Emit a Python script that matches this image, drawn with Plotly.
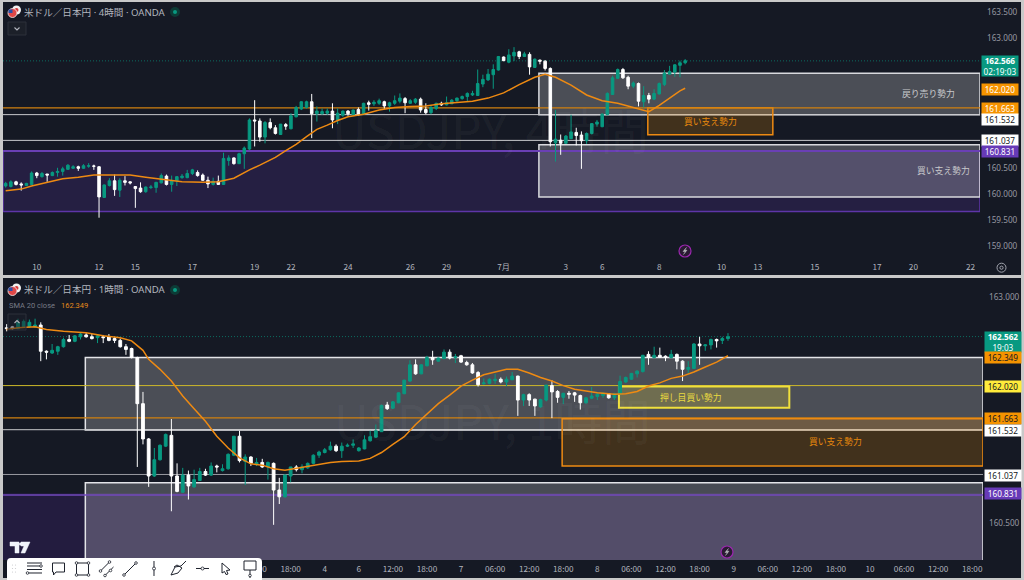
import plotly.graph_objects as go

FONT = "Noto Sans, Noto Sans CJK JP"
JP_FONT = "Noto Sans CJK JP"
GREEN = "#089981"
ORANGE = "#f59300"
PURPLE = "#673ab7"
YELLOW = "#ffeb3b"
PANEL = "#151924"

# 4 hour chart
top_open = [
    160.16, 160.15, 160.24, 160.20, 160.17, 160.19, 160.41, 160.34, 160.39, 160.36,
    160.42, 160.44, 160.48, 160.50, 160.53, 160.50, 160.54, 160.545, 160.53, 159.94,
    160.17, 160.26, 160.08, 160.26, 160.24, 160.15, 160.12, 160.05, 160.13, 160.13,
    160.22, 160.35, 160.19, 160.26, 160.32, 160.32, 160.40, 160.42, 160.37, 160.27,
    160.19, 160.25, 160.19, 160.65, 160.70, 160.59, 160.78, 160.87, 161.43, 161.41,
    161.10, 161.38, 161.28, 161.15, 161.34, 161.26, 161.49, 161.64, 161.67, 161.78,
    161.55, 161.55, 161.56, 161.60, 161.43, 161.52, 161.60, 161.53, 161.63, 161.54,
    161.76, 161.74, 161.75, 161.78, 161.70, 161.75, 161.79, 161.84, 161.75, 161.77,
    161.83, 161.63, 161.57, 161.65, 161.75, 161.72, 161.74, 161.80, 161.84, 161.88,
    161.91, 161.90, 162.12, 162.20, 162.30, 162.39, 162.64, 162.54, 162.66, 162.74,
    162.65, 162.69, 162.44, 162.58, 162.56, 162.42, 160.99, 161.04, 160.98, 161.07,
    161.19, 161.14, 161.03, 161.17, 161.35, 161.30, 161.53, 161.92, 162.23, 162.40,
    162.25, 162.08, 162.13, 161.78, 161.90, 161.83, 161.93, 162.11, 162.31, 162.35,
    162.48, 162.53,
]
top_high = [
    160.24, 160.27, 160.26, 160.23, 160.22, 160.44, 160.43, 160.43, 160.39, 160.44,
    160.51, 160.53, 160.58, 160.56, 160.55, 160.58, 160.60, 160.57, 160.54, 160.19,
    160.31, 160.38, 160.31, 160.35, 160.25, 160.16, 160.23, 160.15, 160.18, 160.24,
    160.40, 160.38, 160.36, 160.35, 160.39, 160.47, 160.49, 160.46, 160.40, 160.34,
    160.32, 160.36, 160.80, 160.75, 160.71, 160.80, 160.92, 161.46, 161.81, 161.46,
    161.41, 161.46, 161.33, 161.35, 161.37, 161.56, 161.70, 161.79, 161.80, 161.93,
    161.69, 161.65, 161.65, 161.75, 161.65, 161.61, 161.62, 161.63, 161.67, 161.76,
    161.80, 161.81, 161.84, 161.80, 161.78, 161.90, 161.94, 161.87, 161.83, 161.85,
    161.86, 161.75, 161.70, 161.76, 161.78, 161.88, 161.83, 161.86, 161.90, 161.96,
    161.99, 162.40, 162.30, 162.41, 162.50, 162.66, 162.65, 162.79, 162.83, 162.76,
    162.74, 162.73, 162.61, 162.59, 162.58, 162.44, 161.62, 161.15, 161.14, 161.53,
    161.28, 161.21, 161.19, 161.37, 161.43, 161.56, 161.96, 162.28, 162.42, 162.43,
    162.28, 162.17, 162.15, 162.08, 161.95, 162.02, 162.15, 162.39, 162.47, 162.50,
    162.57, 162.60,
]
top_low = [
    160.13, 160.13, 160.17, 160.07, 160.16, 160.18, 160.31, 160.32, 160.24, 160.35,
    160.34, 160.36, 160.47, 160.49, 160.45, 160.49, 160.51, 160.47, 159.55, 159.93,
    160.15, 159.97, 159.95, 160.17, 160.19, 159.74, 160.03, 160.03, 160.10, 160.03,
    160.21, 160.17, 160.05, 160.16, 160.30, 160.31, 160.37, 160.34, 160.26, 160.12,
    160.17, 160.18, 160.18, 160.55, 160.57, 160.58, 160.49, 160.85, 160.92, 161.01,
    160.98, 161.25, 161.15, 161.14, 161.24, 161.25, 161.48, 161.62, 161.65, 161.08,
    161.40, 161.53, 161.53, 161.27, 161.35, 161.49, 161.51, 161.51, 161.51, 161.53,
    161.61, 161.70, 161.72, 161.64, 161.59, 161.72, 161.75, 161.56, 161.74, 161.74,
    161.57, 161.54, 161.54, 161.62, 161.70, 161.71, 161.74, 161.78, 161.82, 161.79,
    161.89, 161.89, 162.06, 162.18, 162.03, 162.38, 162.56, 162.52, 162.56, 162.60,
    162.64, 162.30, 162.43, 162.50, 162.38, 160.92, 160.63, 160.76, 160.97, 161.06,
    160.94, 160.49, 160.97, 161.15, 161.30, 161.29, 161.52, 161.91, 162.22, 162.22,
    162.02, 162.04, 161.69, 161.67, 161.75, 161.81, 161.92, 162.08, 162.30, 162.26,
    162.25, 162.50,
]
top_close = [
    160.21, 160.24, 160.19, 160.18, 160.21, 160.41, 160.36, 160.40, 160.37, 160.42,
    160.44, 160.49, 160.56, 160.53, 160.50, 160.55, 160.55, 160.54, 159.95, 160.18,
    160.26, 160.09, 160.27, 160.23, 160.22, 160.11, 160.05, 160.14, 160.14, 160.23,
    160.36, 160.19, 160.26, 160.34, 160.35, 160.40, 160.47, 160.36, 160.27, 160.20,
    160.25, 160.19, 160.69, 160.70, 160.59, 160.78, 160.89, 161.43, 161.41, 161.10,
    161.38, 161.28, 161.17, 161.35, 161.31, 161.51, 161.67, 161.78, 161.78, 161.55,
    161.60, 161.59, 161.60, 161.43, 161.56, 161.60, 161.55, 161.62, 161.53, 161.75,
    161.73, 161.77, 161.80, 161.70, 161.76, 161.80, 161.85, 161.76, 161.80, 161.83,
    161.62, 161.57, 161.67, 161.75, 161.72, 161.76, 161.81, 161.85, 161.88, 161.94,
    161.94, 162.13, 162.21, 162.31, 162.40, 162.65, 162.57, 162.68, 162.73, 162.65,
    162.70, 162.45, 162.60, 162.56, 162.42, 161.01, 161.06, 160.98, 161.12, 161.20,
    161.13, 161.03, 161.17, 161.36, 161.39, 161.54, 161.94, 162.24, 162.40, 162.24,
    162.08, 162.14, 161.79, 161.90, 161.83, 161.94, 162.13, 162.33, 162.36, 162.49,
    162.53, 162.57,
]
top_sma_bars = [
    0, 3, 5, 8, 11, 14, 17, 20, 24, 27, 30, 34, 38, 41, 44, 47, 49, 52, 54, 56, 58, 60,
    62, 64, 66, 69, 72, 75, 78, 81, 84, 87, 90, 93, 96, 99, 102, 104, 106, 109, 112,
    115, 118, 121, 124, 126, 128, 130, 131,
]
top_sma = [
    160.07, 160.10, 160.16, 160.23, 160.30, 160.33, 160.37, 160.37, 160.37, 160.33,
    160.29, 160.24, 160.23, 160.24, 160.31, 160.47, 160.56, 160.71, 160.84, 160.96,
    161.11, 161.25, 161.33, 161.42, 161.49, 161.54, 161.62, 161.67, 161.69, 161.70,
    161.74, 161.77, 161.79, 161.85, 161.95, 162.11, 162.25, 162.31, 162.25, 162.10,
    161.91, 161.80, 161.75, 161.67, 161.59, 161.71, 161.85, 161.99, 162.04,
]
top_tick_bars = [6, 18, 25, 36, 48, 55, 66, 78, 85, 96, 108, 115, 126, 138, 145, 156, 168, 175, 186]
top_tick_text = ["10", "12", "15", "17", "19", "22", "24", "26", "29", "7月", "3", "6", "8", "10", "13", "15", "17", "20", "22"]
top_price_ticks = [163.5, 163.0, 160.5, 160.0, 159.5, 159.0]

# 1 hour chart
low_open = [
    162.66, 162.67, 162.65, 162.67, 162.67, 162.67, 162.69, 162.40, 162.38, 162.40,
    162.45, 162.53, 162.51, 162.56, 162.58, 162.56, 162.55, 162.56, 162.56, 162.54,
    162.52, 162.45, 162.43, 162.33, 161.82, 161.43, 161.02, 161.20, 161.35, 161.47,
    161.02, 160.84, 161.03, 160.90, 160.97, 161.07, 161.03, 161.13, 161.08, 161.10,
    161.25, 161.46, 161.18, 161.23, 161.15, 161.17, 161.12, 161.16, 160.865, 160.79,
    161.02, 161.12, 161.09, 161.11, 161.16, 161.25, 161.28, 161.31, 161.35, 161.30,
    161.35, 161.36, 161.30, 161.32, 161.41, 161.45, 161.51, 161.805, 161.77, 161.83,
    161.93, 162.07, 162.25, 162.15, 162.24, 162.33, 162.29, 162.32, 162.39, 162.33,
    162.35, 162.275, 162.25, 162.165, 162.04, 162.045, 162.075, 162.09, 162.06, 162.085,
    162.125, 161.86, 161.92, 161.87, 161.785, 161.86, 162.02, 161.955, 161.89, 161.935,
    161.94, 161.91, 161.83, 161.88, 161.90, 161.91, 161.93, 161.885, 161.925, 162.06,
    162.09, 162.15, 162.175, 162.365, 162.33, 162.355, 162.345, 162.33, 162.365, 162.29,
    162.20, 162.21, 162.48, 162.46, 162.47, 162.53, 162.52, 162.54,
]
low_high = [
    162.70, 162.68, 162.76, 162.75, 162.75, 162.76, 162.72, 162.41, 162.48, 162.46,
    162.55, 162.58, 162.58, 162.60, 162.60, 162.59, 162.59, 162.58, 162.59, 162.56,
    162.54, 162.48, 162.44, 162.34, 161.95, 161.44, 161.33, 161.37, 161.49, 161.65,
    161.16, 161.11, 161.08, 161.09, 161.11, 161.10, 161.17, 161.145, 161.15, 161.27,
    161.46, 161.52, 161.26, 161.24, 161.22, 161.21, 161.18, 161.17, 161.00, 161.04,
    161.12, 161.14, 161.15, 161.17, 161.26, 161.30, 161.33, 161.40, 161.37, 161.39,
    161.38, 161.425, 161.34, 161.47, 161.52, 161.59, 161.81, 161.84, 161.85, 161.945,
    162.085, 162.30, 162.31, 162.255, 162.35, 162.405, 162.33, 162.42, 162.42, 162.37,
    162.36, 162.295, 162.27, 162.18, 162.10, 162.10, 162.15, 162.11, 162.12, 162.17,
    162.13, 161.93, 161.935, 161.875, 161.875, 162.03, 162.08, 161.97, 161.94, 161.96,
    161.95, 161.92, 161.895, 162.005, 161.94, 161.945, 161.935, 161.94, 162.13, 162.12,
    162.16, 162.19, 162.36, 162.40, 162.45, 162.44, 162.355, 162.415, 162.375, 162.30,
    162.29, 162.49, 162.56, 162.48, 162.54, 162.54, 162.56, 162.60,
]
low_low = [
    162.62, 162.635, 162.64, 162.66, 162.66, 162.66, 162.29, 162.31, 162.37, 162.36,
    162.44, 162.50, 162.50, 162.53, 162.55, 162.53, 162.49, 162.49, 162.51, 162.49,
    162.44, 162.36, 162.32, 161.12, 161.37, 160.90, 161.01, 161.19, 161.34, 160.63,
    160.84, 160.84, 160.76, 160.89, 160.97, 161.02, 161.02, 161.06, 161.07, 161.09,
    161.24, 161.17, 160.92, 161.13, 161.13, 161.11, 160.98, 160.48, 160.71, 160.78,
    160.95, 161.07, 161.05, 161.10, 161.15, 161.22, 161.27, 161.30, 161.285, 161.22,
    161.34, 161.33, 161.29, 161.315, 161.40, 161.44, 161.51, 161.75, 161.76, 161.825,
    161.925, 162.06, 162.14, 162.145, 162.23, 162.25, 162.285, 162.31, 162.31, 162.27,
    162.27, 162.24, 162.15, 162.01, 162.03, 162.035, 162.04, 162.045, 162.015, 162.08,
    161.685, 161.795, 161.795, 161.685, 161.775, 161.845, 161.66, 161.83, 161.815, 161.875,
    161.84, 161.755, 161.82, 161.87, 161.86, 161.885, 161.875, 161.86, 161.92, 162.05,
    162.085, 162.11, 162.165, 162.25, 162.32, 162.325, 162.29, 162.32, 162.20, 162.07,
    162.16, 162.21, 162.25, 162.405, 162.42, 162.44, 162.48, 162.515,
]
low_close = [
    162.65, 162.65, 162.72, 162.73, 162.72, 162.69, 162.40, 162.39, 162.41, 162.45,
    162.53, 162.51, 162.57, 162.59, 162.56, 162.54, 162.57, 162.55, 162.52, 162.52,
    162.45, 162.42, 162.33, 161.82, 161.43, 161.02, 161.20, 161.36, 161.48, 161.02,
    160.85, 161.03, 160.91, 160.98, 161.07, 161.03, 161.13, 161.12, 161.10, 161.26,
    161.46, 161.19, 161.23, 161.16, 161.17, 161.12, 161.17, 160.865, 160.79, 161.03,
    161.12, 161.09, 161.12, 161.16, 161.25, 161.285, 161.31, 161.35, 161.30, 161.35,
    161.36, 161.375, 161.33, 161.42, 161.455, 161.52, 161.80, 161.765, 161.84, 161.94,
    162.08, 162.25, 162.15, 162.25, 162.33, 162.305, 162.325, 162.39, 162.325, 162.34,
    162.28, 162.25, 162.16, 162.03, 162.05, 162.09, 162.09, 162.06, 162.09, 162.125,
    161.86, 161.92, 161.86, 161.795, 161.865, 162.025, 161.95, 161.89, 161.935, 161.925,
    161.915, 161.83, 161.885, 161.905, 161.925, 161.935, 161.885, 161.93, 162.065, 162.11,
    162.155, 162.18, 162.355, 162.33, 162.355, 162.335, 162.33, 162.365, 162.29, 162.20,
    162.22, 162.48, 162.46, 162.47, 162.53, 162.515, 162.54, 162.56,
]
low_sma_bars = [
    0, 2, 5, 7, 10, 14, 17, 20, 22, 24, 25, 27, 29, 31, 33, 35, 37, 39, 41, 43, 45, 47,
    49, 51, 54, 57, 59, 62, 64, 66, 68, 70, 72, 74, 76, 78, 80, 82, 84, 86, 88, 90, 92,
    94, 96, 98, 100, 102, 104, 107, 109, 111, 113, 115, 117, 119, 121, 123, 125, 127,
]
low_sma = [
    162.64, 162.66, 162.67, 162.64, 162.62, 162.605, 162.57, 162.55, 162.515, 162.41,
    162.31, 162.20, 162.07, 161.905, 161.765, 161.625, 161.46, 161.33, 161.22, 161.155,
    161.14, 161.10, 161.085, 161.105, 161.14, 161.17, 161.18, 161.185, 161.215, 161.28,
    161.37, 161.455, 161.59, 161.71, 161.82, 161.915, 162.015, 162.08, 162.14, 162.17,
    162.20, 162.20, 162.16, 162.11, 162.07, 162.02, 161.98, 161.96, 161.94, 161.925,
    161.93, 161.955, 162.015, 162.05, 162.10, 162.125, 162.17, 162.225, 162.28, 162.35,
]
low_tick_bars = [44, 50, 56, 62, 68, 74, 80, 86, 92, 98, 104, 110, 116, 122, 128, 134, 140, 146, 152, 158, 164, 170]
low_tick_text = ["12:00", "18:00", "4", "6", "12:00", "18:00", "7", "06:00", "12:00", "18:00", "8", "06:00", "12:00", "18:00", "9", "06:00", "12:00", "18:00", "10", "06:00", "12:00", "18:00"]
low_price_ticks = [163.0, 160.5]

top_xr = [-0.515, 187.84]
top_yr = [158.756, 163.698]
low_xr = [-0.646, 171.9]
low_yr = [160.091, 163.21]


def fx(x):
    return x / 1024


def fy(y):
    return 1 - y / 580


fig = go.Figure()

fig.add_trace(go.Candlestick(
    x=list(range(len(top_open))), open=top_open, high=top_high, low=top_low, close=top_close,
    increasing=dict(line=dict(color=GREEN, width=1), fillcolor=GREEN),
    decreasing=dict(line=dict(color="#ffffff", width=1), fillcolor="#ffffff"),
    whiskerwidth=0, xaxis="x", yaxis="y", showlegend=False,
))
fig.add_trace(go.Scatter(
    x=top_sma_bars, y=top_sma, mode="lines", line=dict(color="#ee8a12", width=1.5),
    xaxis="x", yaxis="y", showlegend=False,
))
fig.add_trace(go.Candlestick(
    x=list(range(len(low_open))), open=low_open, high=low_high, low=low_low, close=low_close,
    increasing=dict(line=dict(color=GREEN, width=1), fillcolor=GREEN),
    decreasing=dict(line=dict(color="#ffffff", width=1), fillcolor="#ffffff"),
    whiskerwidth=0, xaxis="x2", yaxis="y2", showlegend=False,
))
fig.add_trace(go.Scatter(
    x=low_sma_bars, y=low_sma, mode="lines", line=dict(color="#ee8a12", width=1.5),
    xaxis="x2", yaxis="y2", showlegend=False,
))

shapes = []


def page_rect(x0, y0, x1, y1, fill, line=None, layer="below", width=1):
    shapes.append(dict(type="rect", xref="paper", yref="paper", x0=fx(x0), x1=fx(x1), y0=fy(y0), y1=fy(y1),
                       fillcolor=fill, line=dict(color=line or fill, width=width if line else 0), layer=layer))


def page_circle(cx, cy, r, fill, line=None, layer="below", width=1):
    shapes.append(dict(type="circle", xref="paper", yref="paper", x0=fx(cx - r), x1=fx(cx + r), y0=fy(cy - r), y1=fy(cy + r),
                       fillcolor=fill, line=dict(color=line or fill, width=width if line else 0), layer=layer))


def page_path(points, color, width=1, fill=None, closed=False, layer="above"):
    d = "M " + " L ".join(f"{fx(x):.5f},{fy(y):.5f}" for x, y in points)
    if closed:
        d += " Z"
    shapes.append(dict(type="path", xref="paper", yref="paper", path=d, line=dict(color=color, width=width),
                       fillcolor=fill or "rgba(0,0,0,0)", layer=layer))


def zone(ax, x0, x1, p0, p1, fill, line, width=1.5):
    shapes.append(dict(type="rect", xref=f"x{ax}", yref=f"y{ax}", x0=x0, x1=x1, y0=p0, y1=p1,
                       fillcolor=fill, line=dict(color=line, width=width), layer="below"))


def level(ax, xr, price, color, width=1, dash="solid"):
    shapes.append(dict(type="line", xref=f"x{ax}", yref=f"y{ax}", x0=xr[0], x1=xr[1], y0=price, y1=price,
                       line=dict(color=color, width=width, dash=dash), layer="below"))


# dark panels
page_rect(3, 2, 1021, 275, PANEL)
page_rect(3, 278, 1021, 578, PANEL)

# top pane zones
zone("", top_xr[0], top_xr[1], 159.67, 160.831, "#251f42", "#5e35a8")
level("", top_xr, 162.566, "#0c6b60", 1, "1px,2px")
zone("", 102.8, top_xr[1], 161.53, 162.33, "rgba(255,255,255,0.23)", "#d8d9dd")
zone("", 102.8, top_xr[1], 159.95, 160.955, "rgba(255,255,255,0.22)", "#d8d9dd")
level("", top_xr, 160.831, "#6a3fb5", 2)
level("", top_xr, 161.532, "#c8c9cc", 1)
level("", top_xr, 161.037, "#c8c9cc", 1)
zone("", 123.8, 147.9, 161.147, 161.666, "rgba(245,147,0,0.2)", "#ee8a12")
level("", top_xr, 161.663, "#d0800f", 1.2)

# bottom pane zones
zone("2", low_xr[0], low_xr[1], 159.9, 160.83, "#231c3f", "#231c3f", 0)
level("2", low_xr, 162.562, "#0c6b60", 1, "1px,2px")
zone("2", 13.85, low_xr[1], 161.53, 162.332, "rgba(255,255,255,0.23)", "#e3e4e8")
zone("2", 13.85, low_xr[1], 159.9, 160.946, "rgba(255,255,255,0.22)", "#e3e4e8")
level("2", low_xr, 160.81, "#7248bd", 1.5)
level("2", low_xr, 162.02, "#cdb82a", 1)
level("2", low_xr, 161.663, "#d0800f", 1.2)
level("2", low_xr, 161.532, "#c8c9cc", 1)
level("2", low_xr, 161.037, "#9a9ba0", 1)
zone("2", 97.8, low_xr[1], 161.13, 161.654, "rgba(245,147,0,0.2)", "#ee8a12")
zone("2", 107.8, 137.8, 161.776, 162.01, "rgba(255,235,59,0.2)", "#f0e03c", 2)

# chart header icons
for cy in (12, 290):
    page_circle(16.5, cy - 2, 4.5, "#f2f2f2")
    page_circle(16.5, cy - 2, 2, "#d83a3a")
    page_circle(12.5, cy + 1, 4.5, "#e04848", "#f2f2f2", width=0.8)
    page_rect(8.5, cy - 2.5, 12.5, cy + 1, "#2a4fa8")
    page_circle(175, cy, 5, "#0d3b36")
    page_circle(175, cy, 2, GREEN)
page_rect(8, 22, 26, 35, "#1c2029", "#2c303a", layer="above")
page_path([(14.5, 27.5), (17, 30), (19.5, 27.5)], "#b2b5be", 1.1)
page_rect(8, 314, 26, 330, "rgba(28,32,41,0.5)", "#2c303a", layer="above")
page_path([(14.5, 323), (17, 320.5), (19.5, 323)], "#b2b5be", 1.1)

# lightning badges
for cx, cy in ((685, 251), (727, 552)):
    page_circle(cx, cy, 6, "#2a1a33", "#9c27b0", layer="above", width=1.2)
    page_path([(cx + 1.5, cy - 3.5), (cx - 2, cy + 0.5), (cx + 0.5, cy + 0.5), (cx - 1.5, cy + 3.5), (cx + 2, cy - 0.8), (cx - 0.3, cy - 0.8)],
              "#c8c9cc", 0.4, fill="#c8c9cc", closed=True)

# settings icon
page_circle(1001.5, 267.7, 4.5, "rgba(0,0,0,0)", "#a0a3ad", layer="above", width=1)
page_circle(1001.5, 267.7, 1.6, "rgba(0,0,0,0)", "#a0a3ad", layer="above", width=1)

# tradingview logo
page_path([(10, 542), (19, 542), (19, 553), (15, 553), (15, 546), (10, 546)], "#f0f3fa", 0.5, fill="#f0f3fa", closed=True)
page_path([(21, 542), (30, 542), (25, 553), (21, 553), (24, 546), (21, 546)], "#f0f3fa", 0.5, fill="#f0f3fa", closed=True)
page_circle(20.5, 544, 1.5, "#f0f3fa", layer="above")

# drawing toolbar
TB = "#1e222d"


def knob(cx, cy, r=1.3):
    page_circle(cx, cy, r, "#ffffff", TB, layer="above", width=0.8)


shapes.append(dict(type="path", xref="paper", yref="paper", layer="above", fillcolor="#ffffff", line=dict(color="#ffffff", width=0),
                   path=f"M {fx(11)},{fy(558)} L {fx(258)},{fy(558)} Q {fx(262)},{fy(558)} {fx(262)},{fy(562)} L {fx(262)},{fy(580)} L {fx(7)},{fy(580)} L {fx(7)},{fy(562)} Q {fx(7)},{fy(558)} {fx(11)},{fy(558)} Z"))
for hx in (12.5, 15.5):
    for hy in (565, 568.5, 572):
        page_circle(hx, hy, 0.6, "#c8c9cc", layer="above")
for ly, x0, x1 in ((563, 27, 42), (566, 27, 40), (569.5, 27, 42), (573, 29, 42)):
    page_path([(x0, ly), (x1, ly)], TB, 1)
knob(41, 566)
knob(27.5, 573)
page_path([(52.5, 563), (64.5, 563), (64.5, 572), (56, 572), (53.5, 575), (53.5, 572), (52.5, 572)], TB, 1, closed=True)
page_path([(76.5, 563), (88.5, 563), (88.5, 575), (76.5, 575)], TB, 1, closed=True)
for rx, ry in ((76.5, 563), (88.5, 563), (88.5, 575), (76.5, 575)):
    knob(rx, ry)
page_path([(100.5, 571), (109.5, 562)], TB, 1)
page_path([(105, 575.5), (113.5, 567)], TB, 1)
for rx, ry in ((100.5, 571), (109.5, 562), (105, 575.5), (110.5, 570.5)):
    knob(rx, ry)
page_path([(124, 575), (136, 563)], TB, 1)
knob(124, 575)
knob(136, 563)
page_path([(154, 561), (154, 576)], TB, 1)
knob(154, 568.5, 1.5)
page_path([(171, 575), (175, 567), (181, 566), (186, 561)], TB, 1)
page_path([(171, 575), (178, 573), (182, 568), (177, 565), (174, 567)], TB, 1)
page_path([(196, 568.5), (209, 568.5)], TB, 1)
knob(202.5, 568.5, 1.5)
page_path([(222, 563), (230, 570), (226.5, 570.5), (228, 574), (226, 574.5), (224.5, 571.5), (222, 573)], TB, 1, closed=True)
page_rect(244, 561, 256, 570, "#ffffff", TB, layer="above")
page_path([(250, 570), (250, 578)], TB, 1)
knob(250, 575.5)

annotations = []


def text(x, y, s, size, color, family=FONT, xanchor="left"):
    annotations.append(dict(xref="paper", yref="paper", x=fx(x), y=fy(y), text=s, showarrow=False, xanchor=xanchor,
                            yanchor="middle", font=dict(size=size, color=color, family=family)))


def price_tag(ax, x, price, s, bg, fg, h=10.5):
    annotations.append(dict(xref="paper", yref=f"y{ax}", x=fx(x), y=price, text=s, showarrow=False, xanchor="left",
                            yanchor="middle", width=36, height=h, align="center", valign="middle", bgcolor=bg, borderpad=0,
                            font=dict(size=8.2, color=fg, family=FONT)))


text(22, 12.5, "米ドル／日本円 · 4時間 · OANDA", 9.6, "#b2b5be")
text(22, 289.5, "米ドル／日本円 · 1時間 · OANDA", 9.6, "#b2b5be")
text(7, 305, "SMA 20 close", 7.5, "#787b86", "Roboto")
text(59, 305, "162.349", 7.5, "#e58a1a", "Roboto")
text(490, 128, "USDJPY, 4時間", 48, "rgba(255,255,255,0.055)", JP_FONT, "center")
text(492, 419, "USDJPY, 1時間", 48, "rgba(255,255,255,0.055)", JP_FONT, "center")
text(928, 93, "戻り売り勢力", 8.8, "#c8c9cc", JP_FONT, "center")
text(943, 170, "買い支え勢力", 8.8, "#c8c9cc", JP_FONT, "center")
text(710, 121, "買い支え勢力", 8.8, "#e8890c", JP_FONT, "center")
text(691, 397, "押し目買い勢力", 8.8, "#e8d840", JP_FONT, "center")
text(835, 441.5, "買い支え勢力", 8.8, "#e8890c", JP_FONT, "center")

# tags sit where the chart stacked them, next to (not always on) their own level
price_tag("", 981, 162.467, "<b>162.566</b><br>02:19:03", GREEN, "#ffffff", 20)
price_tag("", 981, 162.01, "162.020", ORANGE, "#ffffff")
price_tag("", 981, 161.653, "161.663", ORANGE, "#ffffff")
price_tag("", 981, 161.437, "161.532", "#ffffff", "#131722")
price_tag("", 981, 161.03, "161.037", "#ffffff", "#131722")
price_tag("", 981, 160.82, "160.831", PURPLE, "#ffffff")

price_tag("2", 983.5, 162.502, "<b>162.562</b><br>19:03", GREEN, "#ffffff", 20)
price_tag("2", 983.5, 162.336, "162.349", ORANGE, "#131722")
price_tag("2", 983.5, 162.012, "162.020", YELLOW, "#131722")
price_tag("2", 983.5, 161.656, "161.663", ORANGE, "#131722")
price_tag("2", 983.5, 161.518, "161.532", "#ffffff", "#131722")
price_tag("2", 983.5, 161.025, "161.037", "#ffffff", "#131722")
price_tag("2", 983.5, 160.826, "160.831", PURPLE, "#ffffff")

tick_font = dict(size=8.2, color="#b2b5be", family=JP_FONT)
price_font = dict(size=8.2, color="#9598a1", family=FONT)
no_grid = dict(showgrid=False, zeroline=False, showline=False, ticks="")

fig.update_layout(
    width=1024, height=580, autosize=False,
    margin=dict(l=0, r=0, t=0, b=0),
    paper_bgcolor="#c9c9c9", plot_bgcolor="rgba(0,0,0,0)",
    font=dict(family=FONT),
    hovermode=False,
    xaxis=dict(domain=[fx(3), fx(980)], range=top_xr, anchor="y", tickmode="array", tickvals=top_tick_bars, ticklabelstandoff=2,
               ticktext=top_tick_text, tickfont=tick_font, rangeslider=dict(visible=False), **no_grid),
    yaxis=dict(domain=[fy(259), fy(2)], range=top_yr, anchor="x", side="right", tickmode="array", tickvals=top_price_ticks, ticklabelstandoff=6,
               ticktext=[f"{p:.3f}" for p in top_price_ticks], tickfont=price_font, **no_grid),
    xaxis2=dict(domain=[fx(3), fx(983)], range=low_xr, anchor="y2", tickmode="array", tickvals=low_tick_bars, ticklabelstandoff=3,
                ticktext=low_tick_text, tickfont=tick_font, rangeslider=dict(visible=False), **no_grid),
    yaxis2=dict(domain=[fy(560), fy(278)], range=low_yr, anchor="x2", side="right", tickmode="array", tickvals=low_price_ticks, ticklabelstandoff=5,
                ticktext=[f"{p:.3f}" for p in low_price_ticks], tickfont=price_font, **no_grid),
    shapes=shapes,
    annotations=annotations,
)

# the page must not add its own margin round the 1024x580 figure
fig.write_html("out.html", config=dict(displayModeBar=False),
               post_script="document.body.style.margin='0';document.documentElement.style.overflow='hidden';")
